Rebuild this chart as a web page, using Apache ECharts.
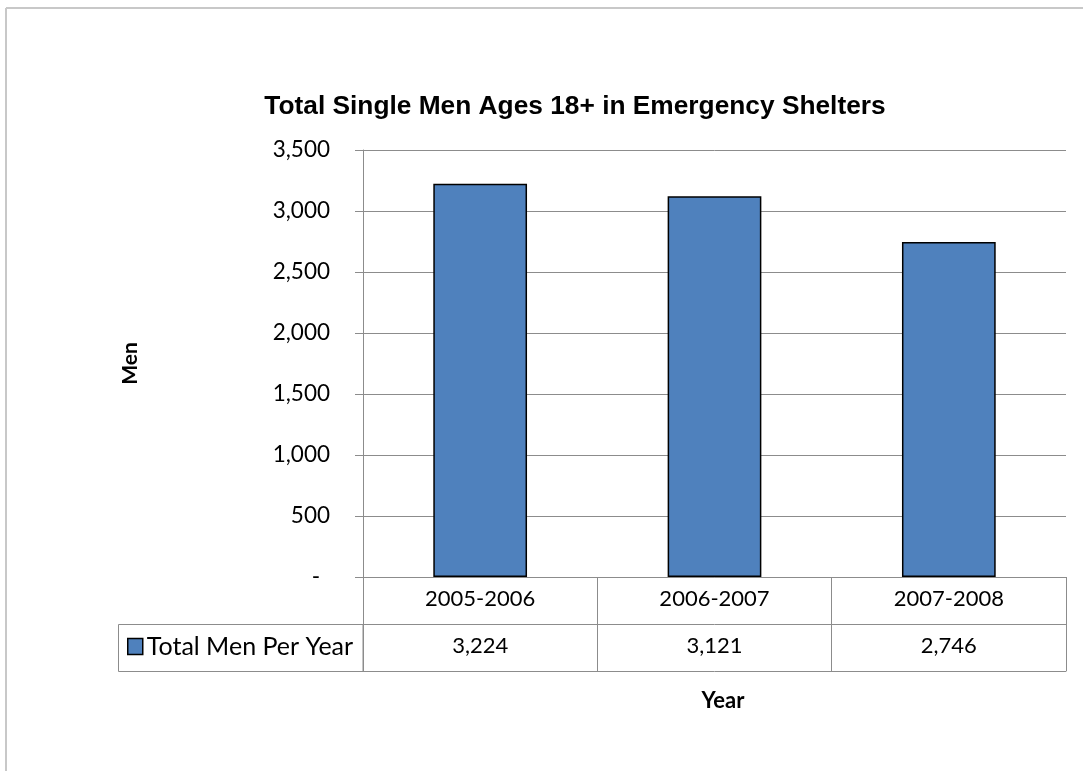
<!DOCTYPE html>
<html>
<head>
<meta charset="utf-8">
<script src="https://cdn.jsdelivr.net/npm/echarts@6/dist/echarts.min.js"></script>
<style>
  html, body { margin: 0; padding: 0; background: #ffffff; }
  #chart { width: 1083px; height: 771px; }
</style>
</head>
<body>
<div id="chart"></div>
<script>
// Chart data
const chartTitle = 'Total Single Men Ages 18+ in Emergency Shelters';
const xAxisTitle = 'Year';
const yAxisTitle = 'Men';
const categories = ['2005-2006', '2006-2007', '2007-2008'];
const seriesName = 'Total Men Per Year';
const menPerYear = [3224, 3121, 2746];
const yTicks = [0, 500, 1000, 1500, 2000, 2500, 3000, 3500];

const bodyFont = 'Lato, "Open Sans", sans-serif';
const titleFont = '"Liberation Sans", Arial, sans-serif';
const gridGray = '#8c8c8c';

const fmt = v => v.toLocaleString('en-US');

// Plot area in pixels
const G = { left: 363, right: 17, top: 150, bottom: 194 };
const rowH = 47;
const chartW = 1083, chartH = 771;
const plotBottom = chartH - G.bottom;

const chart = echarts.init(document.getElementById('chart'), null, { renderer: 'canvas' });

const hiddenAxisBits = {
  axisLabel: { show: false }, axisTick: { show: false }, splitLine: { show: false }
};

chart.setOption({
  animation: false,
  backgroundColor: '#ffffff',
  legend: {
    data: [seriesName],
    left: 127, top: 634,
    icon: 'rect', itemWidth: 15, itemHeight: 16, itemGap: 0,
    padding: 0,
    textStyle: { fontFamily: bodyFont, fontSize: 25, color: '#000', padding: [0, 0, 0, -1] },
    itemStyle: { borderColor: '#000', borderWidth: 1.5 },
    selectedMode: false
  },
  grid: { left: G.left, right: G.right, top: G.top, bottom: G.bottom, containLabel: false },
  xAxis: [
    {
      type: 'category', data: categories, position: 'bottom',
      axisLine: { show: true, lineStyle: { color: gridGray, width: 1 } },
      axisTick: { show: true, length: rowH * 2, alignWithLabel: false, lineStyle: { color: gridGray, width: 1 } },
      axisLabel: { fontFamily: bodyFont, fontSize: 22, color: '#000', margin: 11 },
      splitLine: { show: false }
    },
    {
      type: 'category', data: categories, position: 'bottom', offset: rowH,
      axisLine: { show: true, lineStyle: { color: gridGray, width: 1 } },
      axisTick: { show: false },
      axisLabel: {
        fontFamily: bodyFont, fontSize: 22, color: '#000', margin: 11,
        formatter: (v, i) => fmt(menPerYear[i])
      },
      splitLine: { show: false }
    },
    Object.assign({
      type: 'category', data: categories, position: 'bottom', offset: rowH * 2,
      axisLine: { show: true, lineStyle: { color: gridGray, width: 1 } }
    }, hiddenAxisBits)
  ],
  yAxis: {
    type: 'value', min: 0, max: yTicks[yTicks.length - 1], interval: yTicks[1] - yTicks[0],
    name: yAxisTitle, nameLocation: 'middle', nameRotate: 90, nameGap: 222,
    nameTextStyle: { fontFamily: bodyFont, fontWeight: 'bold', fontSize: 21, color: '#000' },
    axisLine: { show: true, lineStyle: { color: gridGray, width: 1 } },
    axisTick: { show: true, length: 8, lineStyle: { color: gridGray, width: 1 } },
    splitLine: { show: true, lineStyle: { color: gridGray, width: 1 } },
    axisLabel: {
      fontFamily: bodyFont, fontSize: 22.5, color: '#000', margin: 33,
      formatter: v => v === 0 ? '{d|-}' : fmt(v),
      rich: { d: { fontFamily: bodyFont, fontSize: 22.5, color: '#000', padding: [0, 10, 0, 0] } }
    }
  },
  series: [{
    name: seriesName,
    type: 'bar',
    data: menPerYear,
    barWidth: '40%',
    itemStyle: { color: '#4f81bd', borderColor: '#000', borderWidth: 1.5 }
  }],
  graphic: [
    // outer frame (top and left edges)
    { type: 'line', shape: { x1: 6, y1: 8, x2: chartW, y2: 8 }, style: { stroke: '#c8c8c8', lineWidth: 2 }, silent: true },
    { type: 'line', shape: { x1: 6, y1: 8, x2: 6, y2: chartH }, style: { stroke: '#c8c8c8', lineWidth: 2 }, silent: true },
    // legend-key cell of the data table
    { type: 'rect', shape: { x: 118.5, y: plotBottom + rowH + 0.5, width: G.left - 118.5, height: rowH },
      style: { fill: 'none', stroke: gridGray, lineWidth: 1 }, silent: true, z: -1 },
    // chart title
    { type: 'text', x: 575, y: 107, silent: true,
      style: { text: chartTitle, fontFamily: titleFont, fontWeight: 'bold', fontSize: 26.3,
               fill: '#000', align: 'center', verticalAlign: 'middle' } },
    // category axis title
    { type: 'text', x: 723, y: 701, silent: true,
      style: { text: xAxisTitle, fontFamily: bodyFont, fontWeight: 'bold', fontSize: 22,
               fill: '#000', align: 'center', verticalAlign: 'middle' } }
  ]
});
</script>
</body>
</html>
